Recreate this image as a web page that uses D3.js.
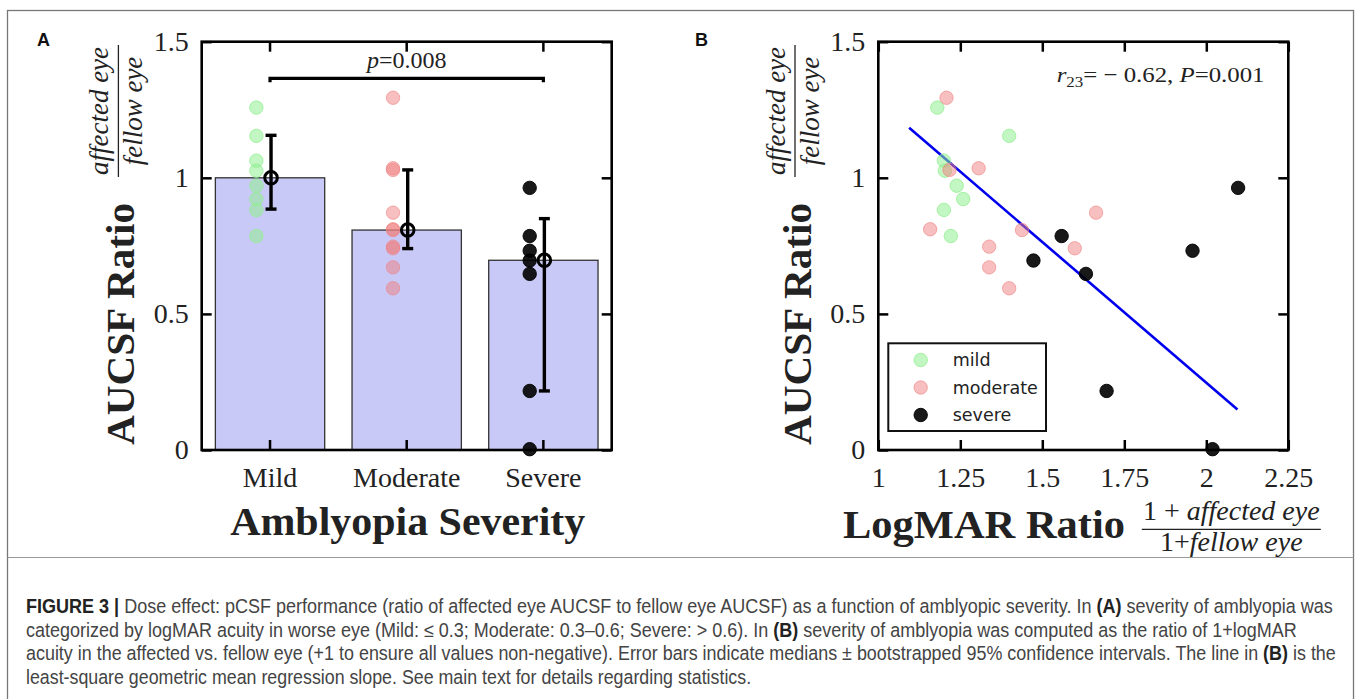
<!DOCTYPE html>
<html><head><meta charset="utf-8">
<script src="https://cdn.jsdelivr.net/npm/d3@7"></script>
<style>body{margin:0;background:#fff}svg{display:block}</style>
</head><body>
<svg id="c" width="1360" height="699"></svg>
<script>
// ---------- data ----------
const categories = ["Mild", "Moderate", "Severe"];
const medians = [1.0, 0.808, 0.697];
const ciLow = [0.885, 0.740, 0.217];
const ciHigh = [1.156, 1.029, 0.850];

const mildX = [1.180, 1.399, 1.200, 1.203, 1.239, 1.259, 1.200, 1.221];
const mildY = [1.258, 1.154, 1.063, 1.026, 0.971, 0.922, 0.882, 0.786];
const moderateX = [1.208, 1.217, 1.306, 1.158, 1.438, 1.338, 1.599, 1.338, 1.399, 1.664];
const moderateY = [1.294, 1.029, 1.035, 0.811, 0.808, 0.747, 0.741, 0.671, 0.594, 0.872];
const severeX = [2.097, 1.559, 1.958, 1.473, 1.633, 1.696, 2.019];
const severeY = [0.963, 0.786, 0.732, 0.696, 0.647, 0.217, 0.003];

const regX = [1.094, 2.095];
const regY = [1.184, 0.149];

const yTicks = [0, 0.5, 1, 1.5];
const yTickLabels = ["0", "0.5", "1", "1.5"];
const xTicksB = [1, 1.25, 1.5, 1.75, 2, 2.25];
const xTickLabelsB = ["1", "1.25", "1.5", "1.75", "2", "2.25"];
const legendLabels = ["mild", "moderate", "severe"];
const pValueA = "0.008";
const statB = { r: "0.62", P: "0.001" };

const captionLines = [
  [["FIGURE 3 |", true], [" Dose effect: pCSF performance (ratio of affected eye AUCSF to fellow eye AUCSF) as a function of amblyopic severity. In ", false], ["(A)", true], [" severity of amblyopia was", false]],
  [["categorized by logMAR acuity in worse eye (Mild: \u2264 0.3; Moderate: 0.3\u20130.6; Severe: > 0.6). In ", false], ["(B)", true], [" severity of amblyopia was computed as the ratio of 1+logMAR", false]],
  [["acuity in the affected vs. fellow eye (+1 to ensure all values non-negative). Error bars indicate medians \u00b1 bootstrapped 95% confidence intervals. The line in ", false], ["(B)", true], [" is the", false]],
  [["least-square geometric mean regression slope. See main text for details regarding statistics.", false]]
];

// ---------- styling ----------
const SERIF = "'Liberation Serif', 'Times New Roman', serif";
const SANS = "'DejaVu Sans', sans-serif";
const groupStyle = [
  { fill: "#90ee90", fo: 0.55, stroke: "#90ee90", so: 0.75 },
  { fill: "#f08080", fo: 0.5, stroke: "#f08080", so: 0.6 },
  { fill: "#000000", fo: 0.9, stroke: "#000000", so: 0.9 }
];
const groupsY = [mildY, moderateY, severeY];
const groupsX = [mildX, moderateX, severeX];

const svg = d3.select("#c");
svg.append("rect").attr("width", 1360).attr("height", 699).attr("fill", "#fff");

// outer frame and caption separator
svg.append("rect").attr("x", 7.5).attr("y", 10.5).attr("width", 1346).attr("height", 700)
  .attr("fill", "none").attr("stroke", "#777").attr("stroke-width", 1.3);
svg.append("line").attr("x1", 7.5).attr("x2", 1353.5).attr("y1", 557.5).attr("y2", 557.5)
  .attr("stroke", "#999").attr("stroke-width", 1);

const plotTop = 41.7, plotBottom = 450;
const y = d3.scaleLinear().domain([0, 1.5]).range([plotBottom, plotTop]);

function frameAndTicks(g, left, right, xScale, xTickVals, xFmt) {
  const ax = g.append("g");
  ax.append("g").attr("transform", `translate(${left},0)`)
    .call(d3.axisLeft(y).tickValues(yTicks).tickFormat((d, i) => yTickLabels[i]).tickSize(-10).tickSizeOuter(0).tickPadding(13));
  ax.append("g").attr("transform", `translate(${right},0)`)
    .call(d3.axisRight(y).tickValues(yTicks).tickFormat("").tickSize(-10).tickSizeOuter(0));
  ax.append("g").attr("transform", `translate(0,${plotTop})`)
    .call(d3.axisTop(xScale).tickValues(xTickVals).tickFormat("").tickSize(-10).tickSizeOuter(0));
  ax.append("g").attr("transform", `translate(0,${plotBottom})`)
    .call(d3.axisBottom(xScale).tickValues(xTickVals).tickFormat(xFmt).tickSize(-10).tickSizeOuter(0).tickPadding(17));
  ax.selectAll(".domain").remove();
  ax.selectAll(".tick line").attr("stroke", "#000").attr("stroke-width", 2.5);
  ax.selectAll(".tick text").attr("font-family", SERIF).attr("font-size", 28).attr("fill", "#222");
  g.append("rect").attr("x", left).attr("y", plotTop).attr("width", right - left).attr("height", plotBottom - plotTop)
    .attr("fill", "none").attr("stroke", "#000").attr("stroke-width", 2.6);
}

function yTitle(g, xb, fracX) {
  g.append("text").attr("transform", `translate(${xb},445) rotate(-90)`)
    .attr("font-family", SERIF).attr("font-weight", "bold").attr("font-size", 41).attr("fill", "#222")
    .attr("textLength", 242).attr("lengthAdjust", "spacingAndGlyphs")
    .text("AUCSF Ratio");
  const f = g.append("g").attr("transform", `translate(${fracX},111) rotate(-90)`);
  f.append("line").attr("x1", -66).attr("x2", 66).attr("stroke", "#222").attr("stroke-width", 1.3);
  f.append("text").attr("y", -10).attr("text-anchor", "middle").attr("font-family", SERIF)
    .attr("font-style", "italic").attr("font-size", 27).attr("fill", "#222").text("affected eye");
  f.append("text").attr("y", 24).attr("text-anchor", "middle").attr("font-family", SERIF)
    .attr("font-style", "italic").attr("font-size", 27).attr("fill", "#222").text("fellow eye");
}

function dot(sel, i) {
  const s = groupStyle[i];
  return sel.attr("r", 6.7).attr("fill", s.fill).attr("fill-opacity", s.fo)
    .attr("stroke", s.stroke).attr("stroke-opacity", s.so).attr("stroke-width", 1);
}

// ================= Panel A =================
const AL = 201.7, AR = 611.7;
const gA = svg.append("g");
const xA = d3.scaleBand().domain(categories).range([AL, AR]).paddingInner(0.2).paddingOuter(0.1);
const step = xA.step();
const cx = c => xA(c) + xA.bandwidth() / 2;

gA.selectAll("rect.bar").data(categories).join("rect").attr("class", "bar")
  .attr("x", c => xA(c)).attr("width", xA.bandwidth())
  .attr("y", (c, i) => y(medians[i])).attr("height", (c, i) => y(0) - y(medians[i]))
  .attr("fill", "#c9c9f7").attr("stroke", "#333").attr("stroke-width", 1.3);

categories.forEach((c, i) => {
  gA.append("g").selectAll("circle").data(groupsY[i]).join("circle")
    .attr("cx", cx(c) - 0.1 * step).attr("cy", d => y(d))
    .call(s => dot(s, i));
});

categories.forEach((c, i) => {
  const x0 = cx(c) + 1;
  const e = gA.append("g").attr("stroke", "#000").attr("stroke-width", 3.4).attr("fill", "none");
  e.append("line").attr("x1", x0).attr("x2", x0).attr("y1", y(ciLow[i])).attr("y2", y(ciHigh[i]));
  e.append("line").attr("x1", x0 - 5.5).attr("x2", x0 + 5.5).attr("y1", y(ciLow[i])).attr("y2", y(ciLow[i]));
  e.append("line").attr("x1", x0 - 5.5).attr("x2", x0 + 5.5).attr("y1", y(ciHigh[i])).attr("y2", y(ciHigh[i]));
  e.append("circle").attr("cx", x0).attr("cy", y(medians[i])).attr("r", 6.3).attr("stroke-width", 3);
});

frameAndTicks(gA, AL, AR, xA, categories, d => d);

// significance bracket
const bx1 = cx("Mild"), bx2 = cx("Severe"), by = 78.3;
gA.append("path").attr("d", `M${bx1},${by + 4}V${by}H${bx2}V${by + 4}`)
  .attr("fill", "none").attr("stroke", "#000").attr("stroke-width", 3.2);
const pt = gA.append("text").attr("x", (bx1 + bx2) / 2).attr("y", 68).attr("text-anchor", "middle")
  .attr("font-family", SERIF).attr("font-size", 24).attr("fill", "#222");
pt.append("tspan").attr("font-style", "italic").text("p");
pt.append("tspan").text("=" + pValueA);

gA.append("text").attr("x", (AL + AR) / 2 + 1).attr("y", 535).attr("text-anchor", "middle")
  .attr("font-family", SERIF).attr("font-weight", "bold").attr("font-size", 41).attr("fill", "#222")
  .attr("textLength", 355).attr("lengthAdjust", "spacingAndGlyphs")
  .text("Amblyopia Severity");
yTitle(gA, 134.4, 118.4);
gA.append("text").attr("x", 37).attr("y", 46).attr("font-family", "'Liberation Sans', Arial, sans-serif")
  .attr("font-weight", "bold").attr("font-size", 18).attr("fill", "#111").text("A");

// ================= Panel B =================
const BL = 878.3, BR = 1288.3;
const gB = svg.append("g");
const xB = d3.scaleLinear().domain([1, 2.25]).range([BL, BR]);

gB.append("path").datum(regX.map((d, i) => [d, regY[i]]))
  .attr("d", d3.line().x(d => xB(d[0])).y(d => y(d[1])))
  .attr("stroke", "#0000ee").attr("stroke-width", 2.6).attr("fill", "none");

[0, 1, 2].forEach(i => {
  gB.append("g").selectAll("circle").data(groupsX[i].map((d, j) => [d, groupsY[i][j]])).join("circle")
    .attr("cx", d => xB(d[0])).attr("cy", d => y(d[1]))
    .call(s => dot(s, i));
});

frameAndTicks(gB, BL, BR, xB, xTicksB, (d, i) => xTickLabelsB[i]);

// statistics annotation
const st = gB.append("text").attr("x", 1056.7).attr("y", 81.7)
  .attr("font-family", SERIF).attr("font-size", 22).attr("fill", "#222");
st.append("tspan").attr("font-style", "italic").text("r");
st.append("tspan").attr("font-size", 15).attr("dy", 5).text("23");
st.append("tspan").attr("dy", -5).text("= \u2212 " + statB.r + ", ");
st.append("tspan").attr("font-style", "italic").text("P");
st.append("tspan").text("=" + statB.P);
(function () {
  const w = st.node().getBBox().width, x0 = 1056.7, s = 208 / w;
  st.attr("transform", `translate(${x0},0) scale(${s},1) translate(${-x0},0)`);
})();

// legend
const lg = gB.append("g");
lg.append("rect").attr("x", 888.3).attr("y", 343.3).attr("width", 157.7).attr("height", 87.7)
  .attr("fill", "#fff").attr("stroke", "#111").attr("stroke-width", 2);
legendLabels.forEach((l, i) => {
  const ly = 360 + i * 27.5;
  lg.append("circle").attr("cx", 920.7).attr("cy", ly).call(s => dot(s, i));
  lg.append("text").attr("x", 952.7).attr("y", ly).attr("dy", "0.35em")
    .attr("font-family", SANS).attr("font-size", 17.5).attr("fill", "#222").text(l);
});

// x title with fraction
gB.append("text").attr("x", 843).attr("y", 538)
  .attr("font-family", SERIF).attr("font-weight", "bold").attr("font-size", 41).attr("fill", "#222")
  .attr("textLength", 282).attr("lengthAdjust", "spacingAndGlyphs")
  .text("LogMAR Ratio");
const fx = gB.append("g").attr("transform", "translate(1231.3,529.3)");
fx.append("line").attr("x1", -89.5).attr("x2", 89.5).attr("stroke", "#222").attr("stroke-width", 1.3);
const num = fx.append("text").attr("y", -9).attr("text-anchor", "middle").attr("font-family", SERIF)
  .attr("font-size", 28).attr("fill", "#222");
num.append("tspan").text("1 + ");
num.append("tspan").attr("font-style", "italic").text("affected eye");
const den = fx.append("text").attr("y", 22).attr("text-anchor", "middle").attr("font-family", SERIF)
  .attr("font-size", 28).attr("fill", "#222");
den.append("tspan").text("1+");
den.append("tspan").attr("font-style", "italic").text("fellow eye");

yTitle(gB, 811, 795);
gB.append("text").attr("x", 695).attr("y", 46).attr("font-family", "'Liberation Sans', Arial, sans-serif")
  .attr("font-weight", "bold").attr("font-size", 18).attr("fill", "#111").text("B");

// ================= caption =================
const capBase = [613, 636.7, 660.3, 684];
const capEnd = [1334, 1298, 1337, 752];
const capX = 26;
captionLines.forEach((segs, li) => {
  const t = svg.append("text").attr("x", capX).attr("y", capBase[li])
    .attr("font-family", "'Liberation Sans Narrow', 'Arial Narrow', 'Liberation Sans', sans-serif")
    .attr("font-size", 19.5).attr("fill", "#444").style("white-space", "pre");
  segs.forEach(([txt, b]) => {
    const ts = t.append("tspan").text(txt);
    if (b) ts.attr("font-weight", "bold").attr("fill", "#222");
  });
  const w = t.node().getBBox().width, s = (capEnd[li] - capX) / w;
  t.attr("transform", `translate(${capX},0) scale(${s},1) translate(${-capX},0)`);
});
</script>
</body></html>
